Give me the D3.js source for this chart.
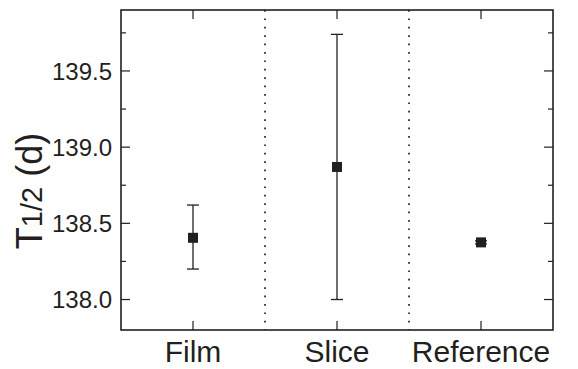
<!DOCTYPE html>
<html>
<head>
<meta charset="utf-8">
<script src="https://cdn.jsdelivr.net/npm/d3@7/dist/d3.min.js"></script>
<style>
  body { margin: 0; background: #fff; }
  text { font-family: "Liberation Sans", Arial, sans-serif; fill: #231f20; }
</style>
</head>
<body>
<div id="chart"></div>
<script>
// ----- data ----- //
var categories = ["Film", "Slice", "Reference"];
var halfLife = [138.405, 138.87, 138.375];
var errLow = [138.20, 138.00, 138.365];
var errHigh = [138.62, 139.74, 138.385];
var yTicks = [138.0, 138.5, 139.0, 139.5];
var yMinorTicks = [138.25, 138.75, 139.25, 139.75];
var separators = [1.5, 2.5];

var W = 578, H = 369;
var pLeft = 121, pRight = 553, pTop = 10, pBottom = 330;
var ink = "#231f20";

var svg = d3.select("#chart").append("svg")
    .attr("width", W)
    .attr("height", H);

var x = d3.scaleLinear().domain([0.5, 3.5]).range([pLeft, pRight]);
var y = d3.scaleLinear().domain([137.8, 139.9]).range([pBottom, pTop]);

// ----- dotted separators ----- //
svg.selectAll(".sep")
    .data(separators)
    .enter()
    .append("line")
    .attr("class", "sep")
    .attr("x1", d => x(d)).attr("x2", d => x(d))
    .attr("y1", pTop).attr("y2", pBottom)
    .attr("stroke", ink)
    .attr("stroke-width", 1.7)
    .attr("stroke-dasharray", "1.7,6.7");

// ----- ticks (inward, on all four sides) ----- //
function ticks(g, vals, len, orient) {
    g.selectAll("line.t" + orient + len)
        .data(vals)
        .enter()
        .append("line")
        .attr("stroke", ink)
        .attr("stroke-width", 1.2)
        .attr("x1", d => orient == "l" ? pLeft : orient == "r" ? pRight : x(d))
        .attr("x2", d => orient == "l" ? pLeft + len : orient == "r" ? pRight - len : x(d))
        .attr("y1", d => orient == "b" ? pBottom : orient == "t" ? pTop : y(d))
        .attr("y2", d => orient == "b" ? pBottom - len : orient == "t" ? pTop + len : y(d));
}
var tg = svg.append("g");
ticks(tg, yTicks, 9, "l");
ticks(tg, yTicks, 9, "r");
ticks(tg, yMinorTicks, 5, "l");
ticks(tg, yMinorTicks, 5, "r");
ticks(tg, [1, 2, 3], 9, "b");
ticks(tg, [1, 2, 3], 9, "t");

// ----- frame ----- //
svg.append("rect")
    .attr("x", pLeft).attr("y", pTop)
    .attr("width", pRight - pLeft).attr("height", pBottom - pTop)
    .attr("fill", "none")
    .attr("stroke", ink)
    .attr("stroke-width", 1.6);

// ----- tick labels ----- //
svg.selectAll(".ylab")
    .data(yTicks)
    .enter()
    .append("text")
    .attr("x", pLeft - 9)
    .attr("y", d => y(d))
    .attr("dy", "0.36em")
    .attr("text-anchor", "end")
    .style("font-size", "24px")
    .text(d => d.toFixed(1));

svg.selectAll(".xlab")
    .data(categories)
    .enter()
    .append("text")
    .attr("x", (d, i) => x(i + 1))
    .attr("y", 362)
    .attr("text-anchor", "middle")
    .style("font-size", "30px")
    .text(d => d);

// ----- y axis title ----- //
var yt = svg.append("text")
    .attr("transform", "translate(42,191) rotate(-90)")
    .attr("text-anchor", "middle")
    .style("font-size", "36px");
yt.append("tspan").text("T");
yt.append("tspan").style("font-size", "29px").text("1/2");
yt.append("tspan").text(" (d)");

// ----- error bars + markers ----- //
var pts = svg.selectAll(".pt")
    .data(categories)
    .enter()
    .append("g")
    .attr("class", "pt");

pts.append("line")
    .attr("x1", (d, i) => x(i + 1)).attr("x2", (d, i) => x(i + 1))
    .attr("y1", (d, i) => y(errLow[i])).attr("y2", (d, i) => y(errHigh[i]))
    .attr("stroke", ink).attr("stroke-width", 1.3);

[errLow, errHigh].forEach(function (arr) {
    pts.append("line")
        .attr("x1", (d, i) => x(i + 1) - 6).attr("x2", (d, i) => x(i + 1) + 6)
        .attr("y1", (d, i) => y(arr[i])).attr("y2", (d, i) => y(arr[i]))
        .attr("stroke", ink).attr("stroke-width", 1.3);
});

pts.append("rect")
    .attr("x", (d, i) => x(i + 1) - 5)
    .attr("y", (d, i) => y(halfLife[i]) - 5)
    .attr("width", 10).attr("height", 10)
    .attr("fill", ink);
</script>
</body>
</html>
